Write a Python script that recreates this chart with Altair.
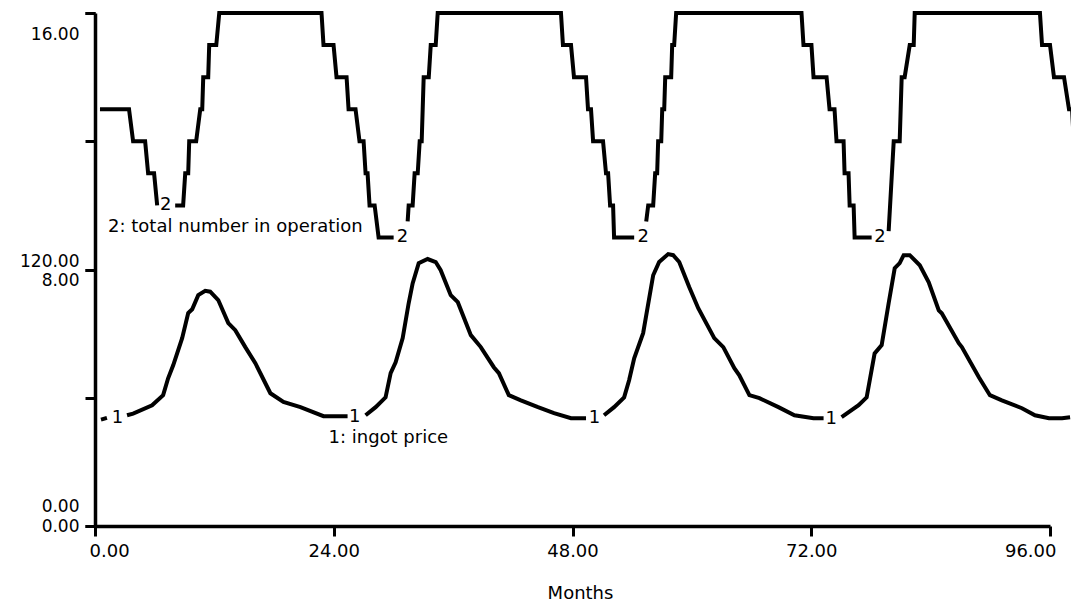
import altair as alt
import pandas as pd

FONT = "DejaVu Sans"

# ---------------- series 1: ingot price (scale 0-240) ----------------
price_months = [
    [0.60, 1.20],
    [3.22, 3.83, 5.74, 6.85, 7.35, 7.86, 8.76, 9.37, 9.77, 10.38, 11.08, 11.58, 12.39, 13.40,
     14.10, 15.11, 16.12, 17.63, 18.94, 20.65, 22.97, 25.39],
    [27.20, 28.21, 29.21, 29.72, 30.22, 30.93, 31.53, 31.93, 32.54, 33.44, 34.25, 34.75, 35.76,
     36.47, 37.78, 38.78, 40.09, 40.60, 41.60, 42.81, 44.53, 46.14, 47.85, 49.36],
    [51.17, 52.18, 53.19, 53.69, 54.20, 55.10, 56.11, 56.71, 57.62, 58.12, 58.73, 59.73, 60.64,
     62.25, 63.16, 64.27, 64.77, 65.78, 66.79, 68.70, 70.31, 72.23, 73.24],
    [75.05, 76.76, 77.57, 78.37, 79.08, 79.78, 80.39, 80.89, 81.29, 81.90, 82.91, 83.81, 84.82,
     85.12, 86.83, 87.14, 88.85, 89.96, 91.16, 93.18, 94.49, 95.90, 97.21, 98.02],
]
price_values = [
    [49.8, 50.6],
    [51.8, 52.6, 56.5, 61.2, 69.1, 75.2, 87.9, 99.6, 101.4, 108, 110, 109.6, 105.7, 94.9,
     91.6, 83.7, 76.2, 62.1, 58.0, 55.6, 51.4, 51.4],
    [51.8, 55.6, 60.2, 71.5, 76.6, 87.9, 104.2, 113.5, 123, 124.9, 123.5, 119.7, 108,
     104.7, 89.3, 83.7, 74.3, 71.5, 61.2, 58.8, 55.6, 52.8, 50.4, 50.4],
    [51.8, 55.6, 60.2, 68.2, 78.5, 90.2, 117.3, 123.5, 127.2, 126.7, 123.5, 111.8, 101.9,
     87.9, 83.7, 73.8, 70.5, 61.2, 59.8, 55.6, 51.8, 50.4, 50.4],
    [50.9, 56.5, 60.2, 80.7, 84.6, 104.2, 120.6, 123, 126.7, 126.7, 122, 114, 100.9,
     99.5, 85.5, 83.7, 69.6, 61.2, 58.8, 55.1, 51.8, 50.4, 50.4, 50.9],
]

# ---------------- series 2: total number in operation (scale 0-16) ----------------
ops_months = [
    [0.50, 3.42, 3.83, 5.04, 5.34, 5.94, 6.25],
    [8.06, 8.86, 9.07, 9.37, 9.47, 10.17, 10.58, 10.78, 10.88, 11.38, 11.48, 12.19, 12.49,
     22.77, 22.97, 23.98, 24.28, 25.29, 25.49, 26.19, 26.59, 27.00, 27.20, 27.40, 27.60,
     28.11, 28.51, 30.02],
    [31.43, 31.53, 31.93, 32.13, 32.44, 32.64, 32.84, 32.94, 33.04, 33.55, 33.75, 34.25, 34.45,
     46.84, 47.04, 47.85, 48.15, 49.36, 49.56, 49.86, 50.07, 51.07, 51.37, 51.58, 51.78,
     52.08, 52.18, 54.20],
    [55.41, 55.61, 56.11, 56.31, 56.51, 56.61, 56.92, 57.02, 57.22, 57.32, 57.92, 58.02, 58.22,
     58.42, 71.02, 71.22, 72.02, 72.23, 73.54, 73.84, 74.34, 74.54, 75.25, 75.35, 75.75,
     75.86, 76.26, 76.36, 78.07],
    [79.78, 80.29, 80.89, 80.99, 81.09, 81.39, 81.90, 82.30, 82.40, 94.99, 95.20, 96.00,
     96.40, 97.41, 97.91, 98.22, 98.32],
]
ops_values = [
    [13, 13, 12, 12, 11, 11, 10],
    [10, 10, 11, 11, 12, 12, 13, 13, 14, 14, 15, 15, 16,
     16, 15, 15, 14, 14, 13, 13, 12, 12, 11, 11, 10, 10, 9, 9],
    [9.5, 10, 10, 11, 11, 12, 12, 13, 14, 14, 15, 15, 16,
     16, 15, 15, 14, 14, 13, 13, 12, 12, 11, 11, 10, 10, 9, 9],
    [9.5, 10, 10, 11, 11, 12, 12, 13, 13, 14, 14, 15, 15, 16,
     16, 15, 15, 14, 14, 13, 13, 12, 12, 11, 11, 10, 10, 9, 9],
    [9.2, 12, 12, 13, 14, 14, 15, 15, 16, 16, 15, 15, 14, 14, 13, 13, 12.4],
]

# series number markers placed in the line gaps
mark1_months = [2.27, 26.1, 50.2, 74.0]
mark1_values = [50.4, 50.9, 50.4, 50.2]
mark2_months = [7.1, 30.9, 55.1, 78.9]
mark2_values = [10.0, 9.0, 9.0, 9.0]

# series names
name1_text = ["1: ingot price"]
name1_month = [23.47]
name1_value = [41.1]
name2_text = ["2: total number in operation"]
name2_month = [1.31]
name2_value = [9.33]

x_ticks = [0, 24, 48, 72, 96]
y1_ticks = [0, 60, 120, 180, 240]
y2_ticks = [0, 8, 16]

FS = 18
YFS = 17


def seg_frame(months, values, field):
    rows = []
    for s, (ms, vs) in enumerate(zip(months, values)):
        for i, (m, v) in enumerate(zip(ms, vs)):
            rows.append({"month": m, field: v, "seg": s, "idx": i})
    return pd.DataFrame(rows)


df1 = seg_frame(price_months, price_values, "v1")
df2 = seg_frame(ops_months, ops_values, "v2")
mk1 = pd.DataFrame({"month": mark1_months, "v1": mark1_values, "txt": ["1"] * len(mark1_months)})
mk2 = pd.DataFrame({"month": mark2_months, "v2": mark2_values, "txt": ["2"] * len(mark2_months)})
nm1 = pd.DataFrame({"month": name1_month, "v1": name1_value, "txt": name1_text})
nm2 = pd.DataFrame({"month": name2_month, "v2": name2_value, "txt": name2_text})

x_axis = alt.Axis(
    values=x_ticks, format=".2f", title="Months", grid=False,
    tickSize=10, tickWidth=3, tickColor="black",
    domainWidth=3.5, domainColor="black",
    labelPadding=6, labelFlush=True, labelFlushOffset=6,
    labelFont=FONT, labelFontSize=FS, labelColor="black",
    titleFont=FONT, titleFontSize=FS, titleFontWeight="normal", titleColor="black",
    titlePadding=24, titleX=485, titleAlign="center",
)
x_enc = alt.X("month:Q", scale=alt.Scale(domain=[0, 96], nice=False, zero=False), axis=x_axis)

y1_axis = alt.Axis(
    values=y1_ticks, title=None, grid=False, orient="left", offset=0,
    labelExpr="datum.value == 0 || datum.value == 120 ? format(datum.value, '.2f') : ''",
    tickSize=10, tickWidth=3, tickColor="black",
    domainWidth=3.5, domainColor="black",
    labelPadding=6, labelBaseline="alphabetic", labelFlush=False, labelOverlap=False,
    labelOffset={"condition": {"test": "datum.value == 0", "value": -15}, "value": -3.5},
    labelFont=FONT, labelFontSize=YFS, labelColor="black",
)
y2_axis = alt.Axis(
    values=y2_ticks, format=".2f", title=None, grid=False, orient="left", offset=0,
    tickSize=10, tickWidth=3, tickColor="black", domain=False,
    labelPadding=6, labelBaseline="alphabetic", labelFlush=False, labelOverlap=False,
    labelOffset={"condition": [{"test": "datum.value == 16", "value": 26.5},
                               {"test": "datum.value == 8", "value": 15.5}], "value": 5},
    labelFont=FONT, labelFontSize=YFS, labelColor="black",
)
y1_enc = alt.Y("v1:Q", scale=alt.Scale(domain=[0, 240], nice=False, zero=False), axis=y1_axis)
y2_enc = alt.Y("v2:Q", scale=alt.Scale(domain=[0, 16], nice=False, zero=False), axis=y2_axis)

line_style = dict(color="black", strokeWidth=4, strokeJoin="miter", strokeCap="butt")
txt_style = dict(font=FONT, fontSize=FS, color="black", baseline="middle")

line1 = alt.Chart(df1).mark_line(**line_style).encode(
    x=x_enc, y=y1_enc, detail="seg:N", order=alt.Order("idx:Q"))
mark1 = alt.Chart(mk1).mark_text(align="center", **txt_style).encode(x=x_enc, y=y1_enc, text="txt:N")
name1 = alt.Chart(nm1).mark_text(align="left", **txt_style).encode(x=x_enc, y=y1_enc, text="txt:N")

line2 = alt.Chart(df2).mark_line(**line_style).encode(
    x=x_enc, y=y2_enc, detail="seg:N", order=alt.Order("idx:Q"))
mark2 = alt.Chart(mk2).mark_text(align="center", **txt_style).encode(x=x_enc, y=y2_enc, text="txt:N")
name2 = alt.Chart(nm2).mark_text(align="left", **txt_style).encode(x=x_enc, y=y2_enc, text="txt:N")

layer1 = alt.layer(line1, mark1, name1)
layer2 = alt.layer(line2, mark2, name2)

chart = (
    alt.layer(layer1, layer2)
    .resolve_scale(y="independent")
    .properties(
        width=955, height=513,
        autosize=alt.AutoSizeParams(type="none"),
        padding={"left": 95, "top": 13, "right": 21, "bottom": 81},
        background="white",
    )
    .configure_view(stroke=None)
)

chart.save("out.html", embed_options={"renderer": "svg", "actions": False})
